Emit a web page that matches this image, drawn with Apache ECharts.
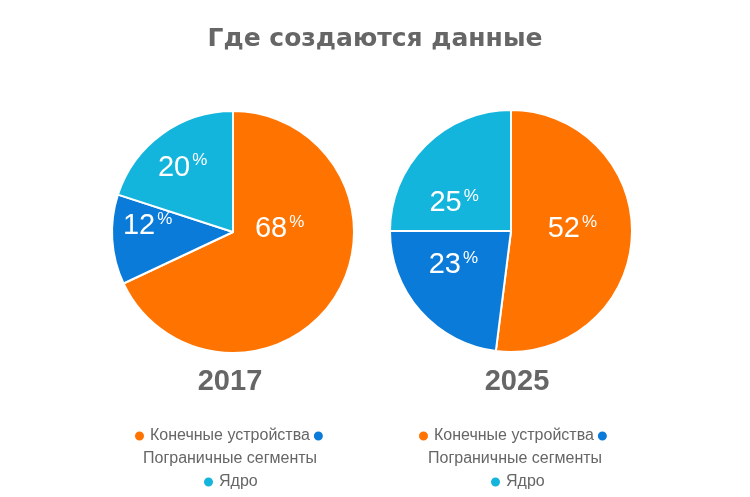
<!DOCTYPE html>
<html><head><meta charset="utf-8">
<script src="https://cdn.jsdelivr.net/npm/echarts@6/dist/echarts.min.js"></script>
<style>html,body{margin:0;padding:0;background:#fff}#c{width:750px;height:497px}</style>
</head><body><div id="c"></div>
<script>
const chartTitle = 'Где создаются данные';
const categories = ['Конечные устройства', 'Пограничные сегменты', 'Ядро'];
const years = ['2017', '2025'];
const values2017 = [68, 12, 20];
const values2025 = [52, 23, 25];

const colors = ['#FF7300', '#0A7BD8', '#14B5DC'];
const labelShift = [
  [[-7, -37], [-22, -10], [-13, -13]],
  [[-2, -6], [-10, -8], [-12, 17]]
];
const pieCenters = [[233, 232], [511, 231]];
const yearX = [230, 517];
const legendLines = [
  { l1: 133, l2: 138, l3: 202 },
  { l1: 417, l2: 423, l3: 489 }
];
const lineTops = [428, 451, 474];
const FONT = 'Liberation Sans, Arial, sans-serif';

const chart = echarts.init(document.getElementById('c'), null, { renderer: 'canvas' });

const series = [values2017, values2025].map((vals, si) => ({
  type: 'pie',
  name: years[si],
  center: pieCenters[si],
  radius: 121,
  startAngle: 90,
  clockwise: true,
  silent: true,
  animation: false,
  itemStyle: { borderColor: '#fff', borderWidth: 2 },
  label: {
    show: true,
    position: 'inside',
    formatter: p => '{v|' + p.value + '}{p|%}',
    rich: {
      v: { fontSize: 29, color: '#fff', fontFamily: FONT },
      p: { fontSize: 17, color: '#fff', fontFamily: FONT, padding: [0, 0, 14, 2] }
    }
  },
  labelLine: { show: false },
  labelLayout: params => ({ dx: labelShift[si][params.dataIndex][0], dy: labelShift[si][params.dataIndex][1] }),
  emphasis: { disabled: true },
  data: categories.map((c, i) => ({ name: c, value: vals[i], itemStyle: { color: colors[i] } }))
}));

const legends = [];
legendLines.forEach(ll => {
  const base = {
    orient: 'horizontal', padding: 0, itemWidth: 11, itemHeight: 11, itemGap: 2,
    icon: 'circle', selectedMode: false,
    textStyle: { color: '#666', fontSize: 16, fontFamily: FONT }
  };
  legends.push(Object.assign({}, base, {
    left: ll.l1, top: lineTops[0], data: [categories[0], categories[1]],
    formatter: n => (n === categories[1] ? '' : n)
  }));
  legends.push(Object.assign({}, base, {
    left: ll.l2, top: lineTops[1], data: [{ name: categories[1], icon: 'none' }], itemWidth: 0
  }));
  legends.push(Object.assign({}, base, {
    left: ll.l3, top: lineTops[2], data: [categories[2]]
  }));
});

chart.setOption({
  backgroundColor: '#fff',
  color: colors,
  title: {
    text: chartTitle, left: 'center', top: 22,
    textStyle: { color: '#666', fontSize: 25, fontWeight: 'bold', fontFamily: 'DejaVu Sans, sans-serif' }
  },
  legend: legends,
  graphic: years.map((y, i) => ({
    type: 'text', x: yearX[i], y: 382,
    style: { text: y, align: 'center', verticalAlign: 'middle', fill: '#666', font: 'bold 29px ' + FONT }
  })),
  series
});
</script></body></html>
